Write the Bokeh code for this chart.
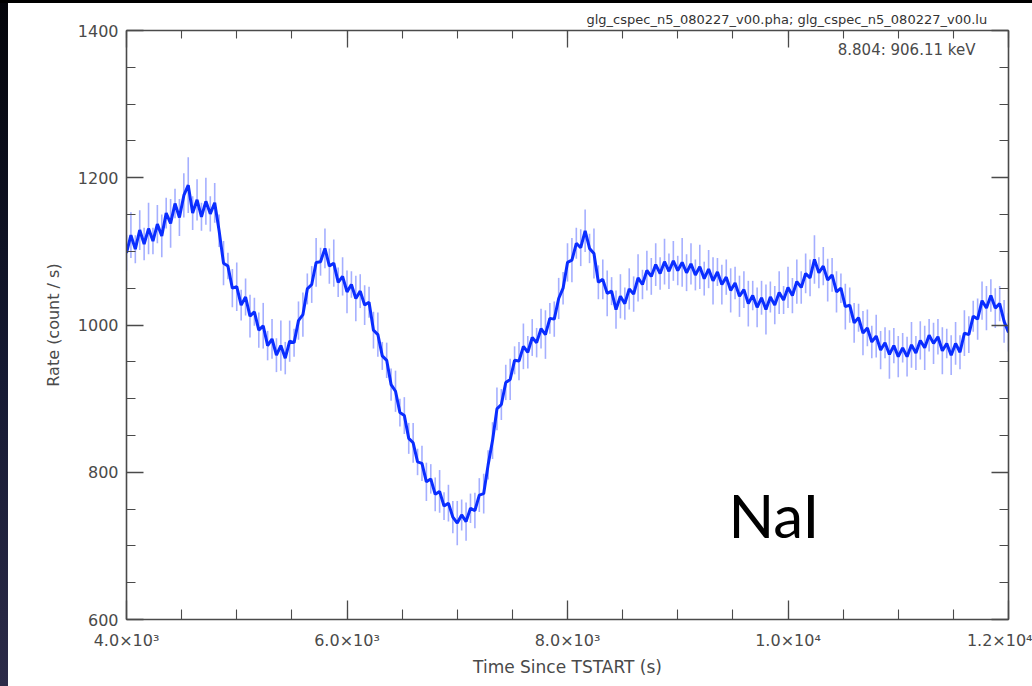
import numpy as np
from bokeh.plotting import figure
from bokeh.models import (LinearAxis, FixedTicker, Label, Div, ColumnDataSource,
                          Title, CustomJSTickFormatter)
from bokeh.layouts import column, row
from bokeh.embed import file_html
from bokeh.resources import INLINE

# Light curve: GBM NaI detector n5, count rate in 40 s bins from t = 4000 s
T0 = 4000.0
DT = 40.0
rate = [
    1098, 1122, 1103, 1129, 1110, 1131, 1114, 1137, 1121, 1152,
    1138, 1165, 1146, 1176, 1190, 1152, 1170, 1147, 1168, 1151,
    1166, 1128, 1084, 1080, 1050, 1052, 1027, 1038, 1012, 1018,
    993, 999, 972, 981, 959, 972, 955, 978, 976, 1006,
    1014, 1049, 1055, 1085, 1086, 1104, 1080, 1084, 1058, 1066,
    1045, 1055, 1036, 1046, 1027, 1031, 993, 987, 958, 952,
    919, 910, 881, 877, 846, 840, 814, 812, 787, 791,
    770, 774, 754, 758, 739, 731, 742, 733, 751, 748,
    769, 771, 810, 843, 886, 892, 922, 926, 952, 951,
    971, 963, 983, 976, 995, 987, 1009, 1008, 1036, 1050,
    1085, 1088, 1111, 1105, 1128, 1104, 1097, 1058, 1062, 1043,
    1046, 1021, 1039, 1029, 1049, 1042, 1064, 1055, 1074, 1066,
    1082, 1070, 1086, 1073, 1087, 1074, 1085, 1071, 1083, 1068,
    1079, 1063, 1076, 1060, 1072, 1055, 1065, 1047, 1057, 1039,
    1048, 1029, 1040, 1024, 1037, 1021, 1038, 1027, 1044, 1034,
    1051, 1040, 1059, 1051, 1070, 1064, 1089, 1071, 1080, 1061,
    1068, 1045, 1050, 1025, 1027, 1003, 1010, 989, 996, 977,
    985, 966, 976, 960, 972, 957, 969, 957, 973, 962,
    979, 969, 986, 975, 984, 965, 975, 959, 975, 963,
    989, 987, 1012, 1008, 1033, 1023, 1040, 1023, 1029, 1005,
    990,
]
err = [
    24, 31, 19, 27, 22, 35, 18, 26, 29, 21, 33, 20, 25, 30, 38, 23, 28, 19, 32, 24,
    27, 22, 30, 18, 26, 33, 21, 25, 29, 19, 24, 31, 20, 27, 23, 34, 22, 28, 19, 26,
    30, 21, 25, 33, 19, 27, 24, 32, 20, 26, 29, 18, 31, 23, 27, 21, 25, 30, 19, 24,
    22, 28, 19, 25, 21, 27, 18, 24, 26, 20, 23, 29, 19, 25, 22, 30, 21, 26, 20, 24,
    23, 27, 20, 25, 29, 21, 24, 28, 19, 26, 31, 22, 25, 20, 27, 33, 21, 24, 28, 22,
    26, 30, 21, 25, 29, 20, 34, 23, 27, 31, 19, 26, 30, 22, 28, 24, 32, 20, 27, 25,
    29, 22, 31, 24, 27, 20, 33, 25, 28, 21, 30, 23, 26, 32, 19, 27, 24, 30, 22, 28,
    25, 31, 20, 27, 23, 34, 21, 26, 29, 19, 28, 24, 30, 22, 27, 25, 33, 21, 26, 29,
    23, 28, 20, 31, 24, 27, 19, 30, 25, 22, 29, 26, 21, 33, 24, 28, 20, 27, 31, 23,
    26, 30, 22, 28, 24, 32, 20, 27, 29, 23, 31, 25, 21, 28, 26, 30, 22, 27, 24, 29,
    26,
]

x_ticks = [4000, 6000, 8000, 10000, 12000]
x_tick_labels = ["4.0×10³", "6.0×10³", "8.0×10³", "1.0×10⁴", "1.2×10⁴"]
y_ticks = [600, 800, 1000, 1200, 1400]
y_tick_labels = ["600", "800", "1000", "1200", "1400"]
energy_text = "8.804: 906.11 keV"
file_text = "glg_cspec_n5_080227_v00.pha; glg_cspec_n5_080227_v00.lu"
detector_text = "NaI"

time = T0 + DT * np.arange(len(rate))
rate_arr = np.array(rate, dtype=float)
err_arr = np.array(err, dtype=float)
src = ColumnDataSource(dict(t=time, r=rate_arr, lo=rate_arr - err_arr, hi=rate_arr + err_arr))

FONT = "DejaVu Sans"
INK = "#4a4a4a"

p = figure(
    width=1024, height=683,
    x_range=(4000, 12000), y_range=(600, 1400),
    output_backend="svg", toolbar_location=None,
    min_border_left=118, min_border_right=24,
    min_border_top=27, min_border_bottom=67,
    background_fill_color="white", border_fill_color="white",
    margin=0,
)
p.outline_line_color = None
p.grid.visible = False

x_ticker = FixedTicker(ticks=x_ticks, minor_ticks=list(range(4000, 12001, 500)))
y_ticker = FixedTicker(ticks=y_ticks, minor_ticks=list(range(600, 1401, 50)))
blank = CustomJSTickFormatter(code="return ''")


def style_axis(ax, major, minor):
    ax.axis_line_color = INK
    ax.axis_line_width = 1.6
    ax.major_tick_line_color = INK
    ax.minor_tick_line_color = INK
    ax.major_tick_line_width = 1.3
    ax.minor_tick_line_width = 1.1
    ax.major_tick_in = major
    ax.major_tick_out = 0
    ax.minor_tick_in = minor
    ax.minor_tick_out = 0


xa = p.xaxis[0]
xa.ticker = x_ticker
xa.major_label_overrides = dict(zip(x_ticks, x_tick_labels))
xa.major_label_text_font = FONT
xa.major_label_text_font_size = "16px"
xa.major_label_text_color = INK
xa.major_label_standoff = 11
xa.axis_label = "Time Since TSTART (s)"
xa.axis_label_text_font = FONT
xa.axis_label_text_font_size = "17px"
xa.axis_label_text_font_style = "normal"
xa.axis_label_text_color = INK
xa.axis_label_standoff = 4
style_axis(xa, 19, 10)

ya = p.yaxis[0]
ya.ticker = y_ticker
ya.major_label_overrides = dict(zip(y_ticks, y_tick_labels))
ya.major_label_text_font = FONT
ya.major_label_text_font_size = "16px"
ya.major_label_text_color = INK
ya.major_label_standoff = 8
ya.axis_label = "Rate (count / s)"
ya.axis_label_text_font = FONT
ya.axis_label_text_font_size = "16px"
ya.axis_label_text_font_style = "normal"
ya.axis_label_text_color = INK
ya.axis_label_standoff = 12
style_axis(ya, 17, 9)

top = LinearAxis(ticker=x_ticker, formatter=blank, major_label_standoff=0)
style_axis(top, 17, 8)
p.add_layout(top, "above")
right = LinearAxis(ticker=y_ticker, formatter=blank, major_label_standoff=0)
style_axis(right, 17, 9)
p.add_layout(right, "right")

# file names of the spectrum and response, printed over the frame
p.add_layout(Title(text=file_text, align="left", offset=460,
                   text_font=FONT, text_font_size="13px",
                   text_font_style="normal", text_color="#333333",
                   standoff=8), "above")

# error bars, then the binned rate
p.segment(x0="t", y0="lo", x1="t", y1="hi", source=src,
          line_color="#7f8dff", line_alpha=0.7, line_width=1.6)
p.line(x="t", y="r", source=src, line_color="#0a2dff", line_width=3)

p.add_layout(Label(x=11700, y=1374, text=energy_text, text_align="right",
                   text_baseline="middle", text_font=FONT,
                   text_font_size="15px", text_color=INK))
p.add_layout(Label(x=9460, y=742, text=detector_text, text_align="left",
                   text_baseline="alphabetic", text_font="Lato",
                   text_font_size="60px", text_color="#000000"))

top_band = Div(width=1032, height=3, margin=0, styles={"background-color": "#000000"})
side = Div(width=8, height=683, margin=0,
           styles={"background": "linear-gradient(180deg, #04050a 0%, #161a33 55%, #2c2b48 100%)"})
page = column(top_band, row(side, p, spacing=0, margin=0), spacing=0, margin=0)

with open("out.html", "w") as f:
    f.write(file_html(page, INLINE))
